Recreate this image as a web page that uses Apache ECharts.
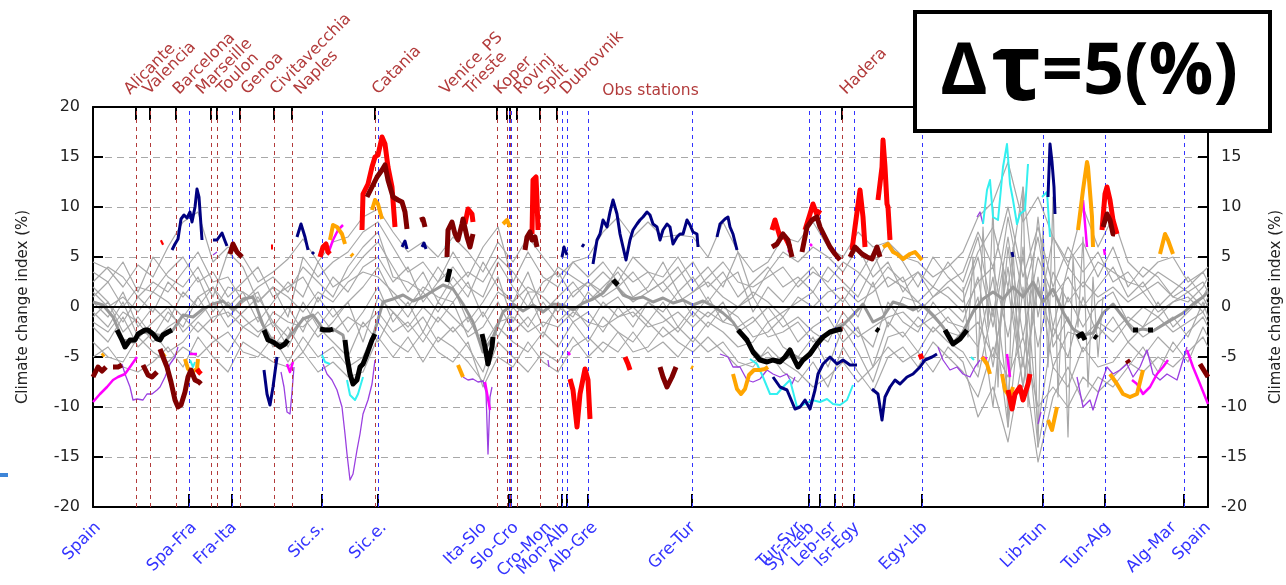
<!DOCTYPE html>
<html>
<head>
<meta charset="utf-8">
<script src="https://cdn.jsdelivr.net/npm/echarts@6.0.0/dist/echarts.min.js"></script>
<style>
  html, body { margin: 0; padding: 0; background: #fff; }
  #chart { width: 1286px; height: 585px; }
</style>
</head>
<body>
<div id="chart"></div>
<script>
// Position along the coastline (model grid index, Spain -> ... -> Spain)
const borderTicks = [96, 139, 229, 285, 416, 418, 469, 474, 495, 599, 716, 727, 742, 761, 829, 950, 1012, 1091];
const borderLabelX = [5, 101, 141, 229, 291, 391, 423, 456, 474, 502, 600, 707, 719, 741, 764, 832, 951, 1015, 1081, 1115];
const borderNames = ['Spain', 'Spa-Fra', 'Fra-Ita', 'Sic.s.', 'Sic.e.', 'Ita-Slo', 'Slo-Cro', 'Cro-Mon', 'Mon-Alb', 'Alb-Gre',
  'Gre-Tur', 'Tur-Syr', 'Syr-Leb', 'Leb-Isr', 'Isr-Egy', 'Egy-Lib', 'Lib-Tun', 'Tun-Alg', 'Alg-Mar', 'Spain'];

const stationTicks = [43, 57, 83, 118, 124, 147, 181, 199, 282, 404, 414, 417, 424, 447, 464, 749];
const stationLabelX = [34, 53, 83, 106, 127, 151, 180, 204, 282, 350, 374, 404, 424, 448, 470, 750];
const stationNames = ['Alicante', 'Valencia', 'Barcelona', 'Marseille', 'Toulon', 'Genoa', 'Civitavecchia', 'Naples',
  'Catania', 'Venice_PS', 'Trieste', 'Koper', 'Rovinj', 'Split', 'Dubrovnik', 'Hadera'];

// Sampling positions of the individual model runs
const coastX = [0,15,30,45,60,75,90,105,120,135,150,165,180,195,210,225,240,255,270,285,300,315,330,345,360,375,390,405,420,435,
  450,465,480,495,510,525,540,555,570,585,600,615,630,645,660,675,690,705,720,735,750,765,780,795,810,825,840,855,870,885,
  900,915,930,945,960,975,990,1005,1020,1035,1050,1065,1080,1095,1110,1115];

const run01 = [4.5,3.8,2.0,4.2,3.0,6.0,8.5,9.5,4.5,6.0, 5.0,2.5,3.5,4.8,6.8,4.5,6.5,7.0,9.0,9.8,
  7.5,5.5,6.5,5.0,7.0,5.5,3.5,6.5,4.5,7.0, 5.0,3.0,4.5,5.0,7.5,9.0,7.0,8.5,7.0,7.2,
  7.0,5.0,8.5,5.5,3.5,4.5,7.0,6.5,8.5,6.0, 5.0,7.5,6.0,6.5,5.0,4.5,3.0,4.0,5.5,9.0,
  10.5,14.5,8.5,11.0,7.0,4.0,10.0,6.0,9.0,4.5, 3.0,4.5,5.0,2.5,3.5,4.0];
const run02 = [3.5,2.5,4.5,1.5,5.0,3.0,2.0,4.0,1.0,5.5, 4.0,0.5,2.0,-1.0,5.0,3.0,4.5,5.5,7.5,8.5,
  6.0,3.5,4.5,2.5,5.5,3.0,6.0,8.0,2.5,5.5, 3.0,2.0,4.5,3.0,4.5,2.5,5.0,3.5,3.0,5.0,
  2.5,4.0,2.0,5.5,1.0,3.5,5.5,4.5,6.0,5.0, 3.5,6.0,3.0,4.5,1.5,3.5,1.0,2.5,3.5,7.5,
  4.0,10.0,3.0,8.0,2.0,6.0,3.5,5.5,2.5,3.5, 1.5,2.5,1.0,0.5,2.0,3.0];
const run03 = [2.0,0.5,-1.5,1.0,-0.5,2.5,1.0,3.0,-0.5,2.0, 1.5,-1.5,0.5,2.5,1.0,4.5,2.0,3.0,5.0,6.5,
  4.0,1.5,3.5,0.5,3.0,1.0,4.5,2.0,0.5,3.5, -0.5,1.0,2.5,0.5,2.0,3.5,1.0,2.0,4.5,1.5,
  3.0,0.5,2.5,3.5,-0.5,2.0,0.5,2.5,4.0,2.0, 0.5,3.0,5.5,2.0,3.0,-0.5,1.0,2.0,0.5,5.0,
  -2.0,7.0,-3.0,5.0,1.0,3.0,0.0,2.0,4.0,1.0, 2.5,0.0,1.5,3.0,1.0,2.0];
const run04 = [0.5,-1.0,1.5,-2.0,0.0,-1.5,1.5,0.0,2.0,-1.0, 0.5,1.5,-2.0,0.0,-2.5,1.0,-1.0,0.5,2.0,4.0,
  1.0,-1.0,1.5,-0.5,2.0,-1.5,0.5,3.0,-1.5,1.5, -2.0,0.0,-1.0,1.5,0.0,1.0,-1.0,0.5,-0.5,1.5,
  -1.0,1.0,-1.5,0.0,1.0,-1.5,-0.5,0.5,1.5,-0.5, 1.0,-1.0,2.5,-2.0,1.0,0.5,-1.0,0.0,-1.5,3.0,
  -6.0,4.0,-8.0,2.0,-3.0,1.0,-2.0,0.5,1.5,-1.5, 0.0,-1.0,0.5,1.0,-0.5,0.5];
const run05 = [-1.0,0.5,-2.5,-1.0,-3.0,-0.5,-2.0,1.0,-1.5,0.5, -1.0,-2.5,-1.5,-3.0,0.5,-2.0,0.0,-2.5,-0.5,2.0,
  -1.5,0.5,-2.5,0.5,-1.0,-2.5,-0.5,-3.0,0.0,-2.0, 0.5,-1.5,0.0,-2.0,0.5,-1.0,0.0,-1.5,0.5,-2.0,
  0.0,-1.0,0.5,-2.5,-1.5,0.0,-2.0,-1.0,-2.5,-3.5, -0.5,-2.5,-4.0,0.5,-1.5,-2.5,0.5,-1.5,-2.0,-4.0,
  3.0,-9.0,6.0,-12.0,-2.0,-5.0,1.0,-3.0,-1.0,-3.5, -2.0,0.5,-2.0,-0.5,1.0,0.0];
const run06 = [-2.0,-3.5,-1.0,-4.0,-2.5,-4.5,-3.5,-1.5,-3.0,-4.5, -2.0,-1.0,-4.0,-2.0,-4.5,-2.0,-3.5,-5.0,-1.5,-3.5,
  -0.5,-2.5,-1.0,-3.5,-2.0,-4.0,-6.5,-2.0,-3.5,-4.5, -2.5,-4.0,-1.5,-3.5,-1.0,-2.5,-3.5,-1.5,-3.0,-2.0,
  -3.5,-1.5,-2.5,-4.0,-3.5,-1.5,-4.0,-5.0,-3.0,-6.0, -2.0,-4.5,-7.5,-3.0,-2.5,-4.5,-2.0,-3.5,-4.5,-7.0,
  0.0,-12.0,2.0,-14.0,-6.0,-8.0,-4.0,-6.0,-5.5,-3.5, -5.0,-3.0,-4.5,-2.5,-1.0,-2.0];
const run07 = [-3.5,-5.0,-5.5,-3.0,-4.5,-5.5,-4.0,-5.0,-3.5,-2.5, -4.5,-5.0,-3.0,-5.5,-3.0,-5.0,-4.0,-6.0,-5.0,-1.5,
  -3.5,-4.5,-2.5,-4.5,-5.5,-3.5,-8.0,-5.0,-6.0,-3.5, -5.5,-6.5,-4.0,-3.0,-4.5,-2.5,-4.5,-4.0,-2.0,-3.5,
  -4.5,-3.0,-4.5,-6.0,-5.5,-4.5,-6.5,-7.5,-5.5,-8.0, -4.0,-6.5,-8.5,-5.0,-4.0,-6.0,-3.5,-5.0,-6.5,-9.0,
  -4.0,-7.0,-3.0,-10.0,-8.0,-10.0,-7.0,-8.5,-7.0,-5.5, -6.5,-5.0,-6.0,-4.5,-3.0,-4.0];
const run08 = [-5.0,-4.0,-6.0,-6.5,-5.5,-4.0,-6.0,-3.0,-5.0,-6.5, -3.5,-4.5,-5.5,-6.0,-4.5,-6.5,-5.5,-7.0,-6.5,-3.0,
  -5.0,-3.0,-5.5,-3.0,-4.0,-5.5,-7.5,-3.5,-5.0,-6.5, -4.5,-5.5,-3.0,-5.0,-3.5,-4.5,-2.5,-4.5,-3.5,-5.0,
  -3.0,-4.5,-3.5,-5.5,-6.0,-4.0,-5.5,-6.5,-8.0,-7.0, -5.5,-7.5,-6.0,-4.0,-5.5,-4.5,-6.5,-4.0,-5.5,-11.0,
  -8.0,-13.5,-5.0,-15.5,-9.0,-6.0,-9.5,-7.0,-8.0,-6.0, -4.0,-6.5,-3.5,-5.5,-2.0,-3.0];
const run09 = [1.0,2.5,0.0,2.0,1.5,3.5,5.0,2.5,3.5,1.0, 2.5,4.0,1.0,2.0,3.0,0.5,3.0,1.5,4.0,5.0,
  2.5,4.0,0.5,2.5,4.0,2.0,1.0,4.5,2.0,0.0, 2.5,3.5,1.0,2.5,1.5,4.0,2.5,3.5,1.5,3.0,
  4.5,2.0,3.5,1.0,2.5,4.0,2.0,3.0,1.5,4.0, 2.5,1.0,4.0,6.5,4.5,2.0,5.0,3.0,1.5,5.5,
  8.0,2.0,12.0,-1.0,7.0,4.5,6.5,3.0,6.0,2.0, 4.0,3.0,1.0,2.0,3.5,2.5];
const run10 = [-0.5,-2.0,0.5,-3.0,-1.5,0.0,-2.5,-1.0,0.5,-2.0, -0.5,1.0,-1.5,-4.0,-1.0,-3.0,-1.5,0.5,-3.5,1.0,
  -0.5,-2.0,0.0,-1.5,0.5,-3.0,-2.0,0.5,-2.5,-1.0, -3.0,0.5,-1.5,-0.5,-2.5,0.0,-2.0,0.5,-1.0,-2.5,
  -0.5,-2.0,0.0,-1.0,-3.0,-2.5,-1.0,-3.5,-2.0,-1.0, -3.5,-2.0,-6.0,-1.5,-3.0,-1.0,-2.5,-1.0,-3.0,1.0,
  -10.0,6.0,-6.0,9.0,-4.0,-1.0,-4.5,-2.0,-3.5,-1.5, -3.0,-2.0,-1.0,-3.0,0.5,-1.0];
const run12 = [1.5,0.0,1.0,-0.5,1.5,0.5,-1.0,1.0,2.0,0.0, 1.5,0.5,2.0,1.0,-0.5,1.5,0.5,2.5,3.5,3.0,
  1.5,0.0,2.0,1.0,0.5,2.5,-1.0,1.5,0.5,2.0, 1.0,-0.5,1.5,2.5,1.0,2.0,0.5,1.5,2.5,0.5,
  1.5,2.5,1.0,0.0,1.5,0.5,-1.0,1.0,0.0,1.5, 2.0,0.5,1.5,3.0,2.0,0.5,2.0,1.0,-0.5,2.5,
  4.0,-3.0,5.0,-4.0,3.5,0.5,2.5,1.0,2.0,0.5, 1.5,-0.5,0.5,1.5,0.0,1.0];
const run13 = [-1.5,-2.5,-0.5,-1.5,-3.5,-2.0,-1.0,-2.5,-1.0,-0.5, -2.0,-3.0,-0.5,-1.5,-2.0,-0.5,-2.5,-1.0,-2.0,-0.5,
  -2.5,-1.5,-3.5,-1.0,-2.5,-1.0,-4.0,-1.5,-1.0,-2.5, -1.5,-2.0,-0.5,-1.5,-2.0,-1.0,-0.5,-2.0,-1.5,-0.5,
  -2.0,-0.5,-1.5,-2.0,-1.0,-3.0,-2.5,-1.5,-3.5,-2.5, -1.5,-3.0,-2.0,-1.0,-0.5,-2.0,-1.0,-2.5,-3.0,-1.5,
  -5.0,2.0,-8.0,3.0,-6.0,-2.5,-3.0,-1.5,-2.5,-1.0, -2.0,-1.0,-2.5,-1.5,-0.5,-1.5];
const run14 = [2.5,4.0,3.0,1.0,2.5,1.5,3.5,5.5,2.5,3.0, 0.5,2.0,3.0,1.5,4.0,2.5,1.0,4.0,6.0,7.5,
  3.0,2.5,1.5,4.0,2.0,3.5,2.5,5.0,3.5,1.5, 1.5,4.0,3.0,2.0,3.5,2.0,3.5,1.5,2.5,4.0,
  1.5,3.0,4.5,2.5,2.0,3.0,4.0,2.0,3.5,2.5, 4.5,3.5,2.0,4.0,2.5,3.5,2.0,4.5,2.5,7.0,
  -1.0,9.0,1.0,7.0,-2.0,4.0,2.0,4.5,3.5,2.5, 2.0,3.5,2.5,1.5,2.5,1.5];

// Strongly oscillating run along the Libyan / Tunisian coast
const libyaX = [870,875,880,885,890,895,900,905,910,915,920,925,930,935,940,945,950,955,960,965,970,975,980,985,990,995,1000,1005,1010];
const run11 = [2,-3,5,-6,8,-2,10,-8,4,-12, 6,-4,12,-10,3,-14,8,-6,11,-9, 2,-13,5,-2,7,-8,3,-5,1];

// Ensemble mean
const meanX = [0,10,20,30,40,50,60,70,80,90,100,110,120,130,140,150,160,170,180,190,200,210,220,230,240,250,260,270,280,290,
  300,310,320,330,340,350,360,370,380,390,400,410,420,430,440,450,460,470,480,490,500,510,520,530,540,550,560,570,580,590,
  600,610,620,630,640,650,660,670,680,690,700,710,720,730,740,750,760,770,780,790,800,810,820,830,840,850,860,870,880,890,
  900,910,920,930,940,950,960,970,980,990,1000,1010,1020,1030,1040,1050,1060,1070,1080,1090,1100,1110,1115];
const meanIndex = [0.5,0.2,-1.0,-3.3,-3.5,-2.5,-2.7,-2.9,-2.3,-0.8, -1.0,-0.2,0.3,0.6,-0.3,0.8,1.0,-1.8,-3.5,-3.7,
  -2.5,-1.2,-0.8,-2.2,-2.2,-2.8,-7.7,-5.7,-3.0,0.5, 0.8,1.2,0.6,1.0,1.6,2.2,1.8,0.3,-1.5,-4.5,
  -3.0,-0.5,0.3,-0.4,0.2,-0.5,0.3,0.2,-0.3,0.4, 0.8,1.4,2.6,1.2,0.8,1.0,0.5,0.9,0.4,0.7,
  0.2,0.6,0.1,-0.6,-1.5,-3.0,-4.3,-5.3,-5.3,-5.2, -4.8,-5.3,-4.2,-3.0,-2.3,-1.8,-0.8,0.3,-1.5,-1.0,
  0.5,0.2,-0.3,0.2,-0.8,-2.0,-3.6,-2.5,-0.5,0.8, 1.5,0.8,2.0,1.0,2.5,0.5,1.8,-0.5,-2.2,-2.8,
  -2.6,-0.6,0.3,-1.0,-2.4,-2.2,-2.4,-1.8,-1.2,-0.6, 0.3,1.0,1.5];

// Highlighted stretches, [position, index %]
const navySegs = [
  [[79,5.7],[82,6.3],[85,6.8],[88,8.8],[91,9.2],[94,8.9],[97,9.5],[99,8.5],[102,10],[104,11.8],[106,11],[109,6.7]],
  [[120,6.7],[124,6.7],[129,7.4],[132,6.6],[134,6.1]],
  [[204,7],[208,8.3],[212,7],[215,5.7]],
  [[219,5.3],[221,5.5]],
  [[309,6],[312,6.6],[314,5.8]],
  [[329,6],[331,6.4],[333,5.8]],
  [[171,-6.3],[174,-8.7],[177,-9.8],[180,-8],[184,-5]],
  [[469,5],[471,6],[474,5.2]],
  [[489,6.0],[491,6.3]],
  [[500,4.3],[504,6.7],[507,7.3],[510,8.7],[514,8],[517,9.5],[520,10.7],[524,9.3],[527,7.3],[530,6],[533,4.7],[537,6.7],
   [540,7.7],[544,8.3],[547,8.7],[550,9],[554,9.5],[557,9.2],[560,8.3],[564,8],[567,6.7],[570,7.7],[574,8.3],[577,8],
   [580,6.3],[584,7],[587,7.3],[590,7.3],[594,8.7],[597,8.2],[600,7.5],[604,7.3],[605,6]],
  [[624,7],[627,8.3],[632,8.8],[635,9],[637,8],[640,7.3],[644,5.7]],
  [[680,-7],[687,-8],[694,-8.3],[702,-10.2],[707,-10],[712,-9.3],[717,-10.2],[722,-8.3],[725,-6.7],[730,-5.7],[737,-5],
   [744,-5.7],[750,-5.3],[757,-5.8],[764,-5.8]],
  [[779,-8.2],[785,-8.7],[789,-11.3],[792,-9],[797,-8],[802,-7.3],[807,-7.7],[814,-7],[820,-6.7],[827,-6],[832,-5.3],
   [839,-5],[844,-4.7]],
  [[919,5.5],[920,5]],
  [[955,11],[957,16.3],[959,14.5],[961,12],[962,9.3]]
];
const redSegs = [
  [[68,6.4],[70,6.5]],
  [[178,6.0],[180,6.0]],
  [[104,-6.2],[106,-6.5],[108,-6.7]],
  [[227,5],[230,6],[233,6.3],[235,5.5],[237,5.3]],
  [[269,7.7],[270,11.3],[275,12.3],[279,14],[282,15],[285,15.2],[289,17],[292,16.3],[295,14],[299,12],[302,8]],
  [[372,8.3],[375,9.8],[379,9.3],[380,8.5]],
  [[439,7.3],[440,12.7],[443,13],[444,10.7],[445,7.7]],
  [[477,-7.2],[480,-8.3],[484,-12],[487,-8.7],[489,-8.8],[492,-6.2],[495,-7.3],[497,-11.2]],
  [[532,-5],[535,-5.7],[537,-6.3]],
  [[679,7.7],[682,8.7],[687,7],[692,7],[697,6]],
  [[712,7.7],[717,9.3],[720,10.3],[724,9.2],[727,9.7]],
  [[759,5.7],[762,8],[767,11.7],[770,9],[772,6]],
  [[785,10.7],[789,14],[790,16.7],[792,14],[794,10.3],[795,10],[797,6.7]],
  [[827,-4.7],[829,-5.2]],
  [[915,-8.3],[919,-10.2],[922,-8.7],[927,-8],[930,-9.3],[935,-7.7],[937,-6.7]],
  [[1009,7.7],[1012,11.3],[1014,12],[1017,10.7],[1020,8.7],[1024,7.3]]
];
const maroonSegs = [
  [[0,-7],[5,-6],[9,-6.4],[13,-6]],
  [[20,-6],[25,-6],[29,-5.8]],
  [[50,-5.8],[55,-6.8],[59,-7],[64,-6.5]],
  [[67,-4.2],[70,-5],[74,-6],[78,-7.5],[82,-9.3],[85,-10],[88,-9.8],[92,-8.5],[95,-7],[98,-6.3],[102,-7.3],[106,-7.5],[108,-7.7]],
  [[137,5.3],[140,6.3],[144,5.5],[149,5]],
  [[274,11],[279,12],[284,13],[289,13.7],[292,14.2],[295,12.7],[300,11],[305,10.7],[309,10.5],[312,9.5],[314,7.8]],
  [[327,8.7],[330,8.8],[332,8]],
  [[354,5],[355,7.7],[359,8.5],[362,7.3],[365,6.7],[369,8.3],[370,8.8],[374,7],[377,6],[380,7.3]],
  [[432,5.7],[434,7],[437,7.5],[439,6.7],[442,7],[444,6]],
  [[567,-6],[570,-7],[574,-8],[579,-7],[583,-6]],
  [[679,6],[684,6.3],[690,7.3],[695,6.7],[699,5]],
  [[709,5.5],[714,8],[719,8.7],[724,9],[727,8],[732,7],[737,6],[742,5.3],[747,4.7]],
  [[757,5],[762,6],[765,5.7],[769,5.3],[774,5],[779,4.8],[784,6],[787,5]],
  [[1010,8],[1014,9.3],[1017,8.7],[1020,7.3],[1022,7.3]],
  [[1034,-5.3],[1036,-5.6]],
  [[1107,-5.7],[1115,-7]]
];
const orangeSegs = [
  [[9,-4.9],[11,-4.7]],
  [[69,-4.6],[72,-5]],
  [[92,-5.2],[95,-6.2],[99,-6.5],[104,-6.2],[105,-5.2]],
  [[237,6.7],[240,8.2],[244,8],[249,7.3],[252,6.3]],
  [[258,5.3],[260,5.1]],
  [[279,9.7],[282,10.7],[285,10.3],[289,8.8]],
  [[365,-5.8],[370,-7]],
  [[410,8.3],[414,8.7],[417,8]],
  [[598,-6],[600,-6.1]],
  [[640,-6.7],[644,-8.2],[648,-8.7],[652,-8.2],[656,-6.8],[661,-6.3],[667,-6.3],[672,-6.2],[675,-6]],
  [[790,6],[795,6.3],[800,5.5],[804,5.3],[810,4.8],[817,5.3],[822,5.5],[829,4.7]],
  [[889,-5],[894,-5.7],[897,-6.7]],
  [[909,-6.7],[912,-8.3],[917,-9],[920,-8]],
  [[955,-11.3],[959,-12.3],[964,-10]],
  [[985,7.7],[990,11.7],[994,14.5],[995,14],[999,9],[1000,6]],
  [[1017,-6.7],[1024,-7.7],[1030,-8.7],[1037,-9],[1044,-8.7],[1050,-6.3]],
  [[1067,5.3],[1072,7.3],[1075,6.7],[1080,5.3]]
];
const magentaSegs = [
  [[0,-9.5],[7,-8.7],[14,-8],[20,-7.3],[25,-7],[32,-6.7],[37,-6],[44,-5]],
  [[97,-4.7],[104,-4.7]],
  [[194,-5.7],[197,-6.5],[200,-5.5]],
  [[235,5.3],[240,6.7],[245,7.7],[250,8.2]],
  [[392,-7.5],[397,-10.3]],
  [[475,-4.5],[477,-4.8]],
  [[695,5.7],[697,5.5]],
  [[717,6.3],[719,6.1]],
  [[889,-5],[894,-5.2]],
  [[914,-4.7],[917,-7]],
  [[990,10.7],[994,6]],
  [[1011,5.8],[1012,5.2]],
  [[1039,-7.3],[1044,-7.7],[1050,-8.7],[1057,-8],[1064,-6.7],[1070,-6],[1075,-5.3]],
  [[1094,-4.3],[1100,-6],[1107,-7.7],[1115,-9.7]]
];
const cyanSegs = [
  [[97,-5.3],[100,-6],[102,-5.5]],
  [[229,-4.8],[232,-5.5],[237,-5.7]],
  [[254,-7.3],[257,-8.8],[262,-9.3],[265,-8.7],[270,-7]],
  [[352,6],[357,6.5]],
  [[657,-5.2],[664,-5.7],[670,-7],[677,-8.7],[684,-8.7],[690,-8],[697,-7.3],[704,-10],[710,-9.8],[719,-9.3],[727,-9.5],
   [734,-9.2],[740,-9.7],[747,-9.8],[754,-9.3],[760,-7.8]],
  [[878,-5],[881,-5.3]],
  [[890,8.3],[894,11.7],[897,12.7],[900,9],[905,8.7],[910,14],[914,16.3],[917,12.3],[920,10.7],[924,8.3],[927,9.3],
   [932,9.7],[935,14.3]],
  [[949,11],[954,11.5],[957,7]]
];
const purpleSegs = [
  [[29,-5.7],[32,-6.7],[37,-8],[40,-9.3],[44,-9.2],[50,-9.3],[54,-8.7],[59,-8.7],[64,-8.3],[67,-8],[72,-7],[77,-5.7],[82,-5],[85,-4]],
  [[120,5.2],[124,5.5]],
  [[188,-6.5],[191,-8],[194,-10.5],[197,-10.7],[199,-8.5],[201,-6]],
  [[230,-5.7],[234,-6.7],[239,-7.3],[244,-8.3],[249,-10],[252,-12.7],[254,-14.7],[257,-17.3],[260,-16.7],[264,-14.3],
   [267,-12.7],[270,-10.7],[275,-9.3],[279,-7.7],[282,-5.3]],
  [[370,-7],[375,-7.3],[380,-7.2],[385,-7.5],[390,-7.4],[393,-8.5],[395,-14.7],[397,-9],[399,-8]],
  [[455,-5.3],[456,-6]],
  [[627,-4.7],[635,-5],[640,-6],[647,-6],[654,-7.3],[660,-7.5],[667,-7.2],[674,-6.3],[680,-6.7],[687,-7],[694,-6.7],
   [699,-7.7],[702,-7]],
  [[845,-4],[850,-5.3],[857,-6.3],[864,-6],[870,-6.7],[877,-7],[882,-6],[887,-5.3]],
  [[884,9],[887,9.5],[890,8.3]],
  [[945,-11.7],[948,-10.5]],
  [[984,-7],[990,-10],[997,-9.3],[1000,-10.3],[1007,-8],[1014,-6],[1020,-6.7],[1027,-6.3],[1034,-5.7],[1040,-7],
   [1047,-6],[1054,-4.3],[1060,-6.7],[1067,-7.3],[1074,-6.7],[1084,-7.3],[1094,-4]]
];
const blackSegs = [
  [[24,-2.3],[29,-3.3],[32,-4],[37,-3.3],[42,-3.3],[45,-2.7],[52,-2.3],[55,-2.3],[60,-2.7],[64,-3.2],[67,-3.3],[70,-2.8],[75,-2.5],[79,-2.3]],
  [[171,-2.3],[175,-3.3],[180,-3.5],[187,-4],[192,-3.7],[195,-3.3]],
  [[227,-2.2],[232,-2.3],[237,-2.3],[240,-2.2]],
  [[252,-3.3],[254,-5],[257,-6.7],[260,-7.7],[264,-7.3],[267,-6],[270,-5.7],[274,-4.7],[279,-3.3],[282,-2.7]],
  [[354,2.5],[357,3.8]],
  [[389,-2.7],[392,-4],[395,-5.7],[399,-4],[400,-3]],
  [[520,2.7],[525,2.2]],
  [[645,-2.3],[654,-3.3],[660,-4.5],[667,-5.3],[674,-5.5],[680,-5.3],[687,-5.5],[692,-5],[697,-4.3],[700,-5],[705,-6],
   [710,-5.3],[717,-4.7],[724,-3.7],[730,-3],[737,-2.5],[744,-2.3],[749,-2.2]],
  [[783,-2.2],[786,-2.4]],
  [[852,-2.3],[860,-3.7],[867,-3.2],[874,-2.3]],
  [[984,-3],[989,-2.7],[992,-3.3]],
  [[1001,-2.9],[1004,-3.1]],
  [[1040,-2.3],[1045,-2.3]],
  [[1055,-2.3],[1060,-2.3]]
];

const FONT = 'DejaVu Sans';
const BORDER_BLUE = '#3333ff';
const STATION_RED = '#b23b3b';

function pairs(xs, ys) { return xs.map((x, i) => [x, ys[i]]); }
function joinSegments(segs) {
  const out = [];
  segs.forEach((s, k) => {
    if (k) out.push([s[0][0], null]);
    s.forEach(p => out.push(p));
  });
  return out;
}
function lineSeries(data, color, width, z) {
  return {
    type: 'line', data, symbol: 'none', showSymbol: false, connectNulls: false,
    silent: true, z, lineStyle: { color, width, join: 'round' }
  };
}

const runs = [run01, run02, run03, run04, run05, run06, run07, run08, run09, run10, run12, run13, run14];
const series = [];

// Vertical reference lines (borders, stations) and the zero line
series.push({
  type: 'line', data: [[0, null]], symbol: 'none', silent: true, z: 1,
  markLine: {
    silent: true, symbol: 'none', label: { show: false }, animation: false,
    data: [
      ...borderTicks.map(x => ({ xAxis: x, lineStyle: { color: BORDER_BLUE, type: [4, 4], width: 1 } })),
      ...stationTicks.map(x => ({ xAxis: x, lineStyle: { color: STATION_RED, type: [4, 4], width: 1 } })),
      { yAxis: 0, lineStyle: { color: '#000', type: 'solid', width: 2 } }
    ]
  }
});

runs.forEach(r => series.push(lineSeries(pairs(coastX, r), '#a8a8a8', 1.2, 2)));
series.push(lineSeries(pairs(libyaX, run11), '#a8a8a8', 1.2, 2));
series.push(lineSeries(pairs(meanX, meanIndex), '#999999', 3, 3));

series.push(lineSeries(joinSegments(purpleSegs), '#9a3fe0', 1.3, 4));
series.push(lineSeries(joinSegments(cyanSegs), '#33f0f0', 2, 5));
series.push(lineSeries(joinSegments(magentaSegs), '#ff00ff', 2.5, 6));
series.push(lineSeries(joinSegments(orangeSegs), '#ffa500', 4, 7));
series.push(lineSeries(joinSegments(redSegs), '#ff0000', 5, 8));
series.push(lineSeries(joinSegments(maroonSegs), '#800000', 5, 9));
series.push(lineSeries(joinSegments(navySegs), '#000080', 3, 10));
series.push(lineSeries(joinSegments(blackSegs), '#000000', 5, 11));

const yAxisCommon = {
  type: 'value', min: -20, max: 20, interval: 5,
  axisLine: { show: true, onZero: false, lineStyle: { color: '#000', width: 2 } },
  axisTick: { show: true, inside: true, length: 10, lineStyle: { color: '#000', width: 2 } },
  axisLabel: { color: '#222', fontSize: 16, fontFamily: FONT, margin: 13 },
  name: 'Climate change index (%)', nameLocation: 'middle',
  nameTextStyle: { color: '#222', fontSize: 15, fontFamily: FONT }
};

// A blank label at each axis end keeps every named label visible
const topLabelValues = [0, ...stationLabelX, 1115];

const chart = echarts.init(document.getElementById('chart'), null, { renderer: 'canvas' });
chart.setOption({
  animation: false,
  backgroundColor: '#fff',
  textStyle: { fontFamily: FONT },
  grid: { left: 93, right: 78, top: 107, bottom: 78, containLabel: false, outerBoundsMode: 'none' },
  xAxis: [
    {
      type: 'value', position: 'bottom', min: 0, max: 1115,
      axisLine: { show: true, onZero: false, lineStyle: { color: '#000', width: 2 } },
      axisTick: { show: true, inside: true, length: 13, customValues: borderTicks, lineStyle: { color: '#000', width: 2 } },
      axisLabel: {
        show: true, customValues: borderLabelX, rotate: 45, margin: 18,
        showMinLabel: true, showMaxLabel: true, hideOverlap: false,
        color: BORDER_BLUE, fontSize: 16.5, fontFamily: FONT,
        formatter: v => { const i = borderLabelX.indexOf(v); return i >= 0 ? borderNames[i] : ''; }
      },
      splitLine: { show: false }
    },
    {
      type: 'value', position: 'top', min: 0, max: 1115,
      axisLine: { show: true, onZero: false, lineStyle: { color: '#000', width: 2 } },
      axisTick: { show: true, inside: true, length: 13, customValues: stationTicks, lineStyle: { color: '#000', width: 2 } },
      axisLabel: {
        show: true, customValues: topLabelValues, rotate: -45, margin: 15,
        showMinLabel: true, showMaxLabel: true, hideOverlap: false,
        color: STATION_RED, fontSize: 16, fontFamily: FONT,
        formatter: v => { const i = stationLabelX.indexOf(v); return i >= 0 ? stationNames[i] : ''; }
      },
      splitLine: { show: false },
      name: 'Obs stations', nameLocation: 'middle', nameGap: 8, nameMoveOverlap: false,
      nameTextStyle: { color: STATION_RED, fontSize: 15.5, fontFamily: FONT }
    }
  ],
  yAxis: [
    Object.assign({}, yAxisCommon, {
      position: 'left', nameGap: 62,
      splitLine: { show: true, lineStyle: { color: '#a8a8a8', type: [7, 5], width: 1.2 } }
    }),
    Object.assign({}, yAxisCommon, {
      position: 'right', nameGap: 61, splitLine: { show: false }
    })
  ],
  series,
  graphic: [
    {
      type: 'rect', z: 100, silent: true,
      shape: { x: 915, y: 12, width: 355, height: 119 },
      style: { fill: '#fff', stroke: '#000', lineWidth: 4 }
    },
    {
      type: 'text', z: 101, silent: true, x: 1089, y: 73,
      style: {
        text: '{a|Δ}{s| }{b|τ}{a|=5(%)}', align: 'center', verticalAlign: 'middle',
        fill: '#000', font: 'bold 72px "Open Sans"',
        rich: {
          a: { fontSize: 72, fontWeight: 'bold', fontFamily: 'Open Sans', fill: '#000' },
          s: { fontSize: 14, fontWeight: 'bold', fontFamily: 'Open Sans', fill: '#000' },
          b: { fontSize: 94, fontWeight: 'bold', fontFamily: 'Open Sans', fill: '#000' }
        }
      }
    },
    {
      type: 'rect', z: 100, silent: true,
      shape: { x: 0, y: 473, width: 8, height: 4 },
      style: { fill: '#3d85d8' }
    }
  ]
});
</script>
</body>
</html>
